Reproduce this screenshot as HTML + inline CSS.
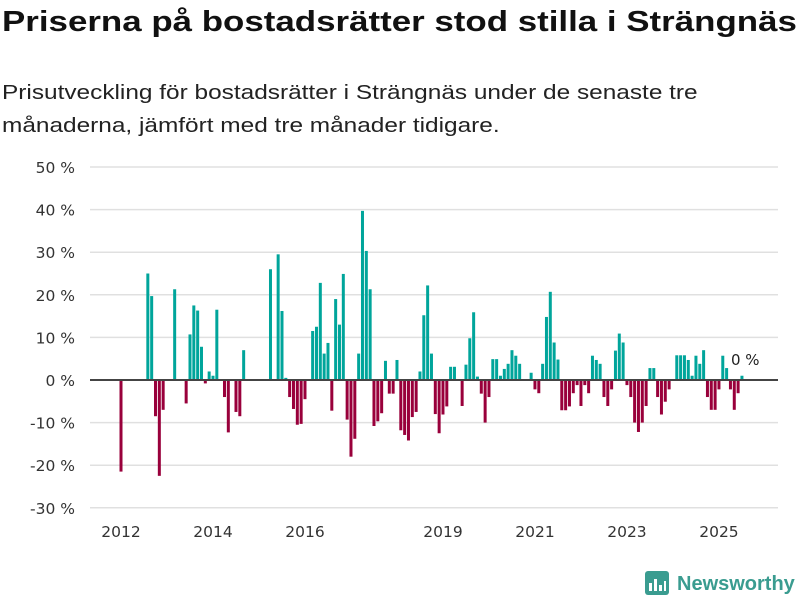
<!DOCTYPE html>
<html><head><meta charset="utf-8">
<style>
body{margin:0;background:#fff;width:800px;height:600px;overflow:hidden;font-family:"Liberation Sans",sans-serif;}
#title{position:absolute;left:2px;top:6px;font-size:29px;font-weight:bold;color:#111;white-space:nowrap;transform:scaleX(1.203);transform-origin:left top;}
#sub{position:absolute;left:2px;top:76px;font-size:20.5px;color:#222;line-height:33px;white-space:nowrap;transform:scaleX(1.19);transform-origin:left top;}
svg{position:absolute;left:0;top:0;}
</style></head><body>
<div id="title">Priserna på bostadsrätter stod stilla i Strängnäs</div>
<div id="sub">Prisutveckling för bostadsrätter i Strängnäs under de senaste tre<br>månaderna, jämfört med tre månader tidigare.</div>
<svg id="chart" width="800" height="600"></svg>
<script>
const monthIndex=[0,7,8,9,10,11,14,17,18,19,20,21,22,23,24,25,27,28,30,31,32,39,41,42,43,44,45,46,47,48,50,51,52,53,54,55,56,57,58,59,60,61,62,63,64,65,66,67,68,69,70,71,72,73,74,75,76,77,78,79,80,81,82,83,84,85,86,87,89,90,91,92,93,94,95,96,97,98,99,100,101,102,103,104,107,108,109,110,111,112,113,114,115,116,117,118,119,120,121,122,123,124,125,126,127,128,129,130,131,132,133,134,135,136,137,138,139,140,141,142,143,145,146,147,148,149,150,151,152,153,154,155,156,157,158,159,160,161,162];
const changeValues=[-21.5,25,19.7,-8.5,-22.5,-7,21.3,-5.5,10.7,17.5,16.3,7.8,-0.8,2,1,16.5,-4,-12.3,-7.5,-8.5,7,26,29.5,16.2,0.5,-4,-6.8,-10.5,-10.3,-4.5,11.5,12.5,22.8,6.2,8.7,-7.2,19,13,24.9,-9.3,-18,-13.8,6.2,39.7,30.3,21.3,-10.8,-9.7,-7.8,4.5,-3.2,-3.2,4.7,-11.8,-12.9,-14.2,-8.7,-7.5,2,15.2,22.2,6.2,-8,-12.5,-8.1,-6.2,3.1,3.1,-6.1,3.6,9.8,15.9,0.8,-3.2,-10,-4,4.9,4.9,1,2.6,3.8,7,5.7,3.8,1.7,-2.2,-3.1,3.8,14.8,20.7,8.8,4.8,-7.1,-7.1,-6.2,-3.1,-1.2,-6.1,-1.2,-3.1,5.7,4.7,3.8,-4,-6.1,-2.2,6.9,10.9,8.8,-1.2,-4,-10,-12.2,-10,-6.1,2.8,2.8,-4,-8.1,-5.1,-2.2,5.8,5.8,5.8,4.7,1,5.7,3.8,7,-4,-7,-7,-2.2,5.7,2.8,-2.2,-7,-3.1,1];
const yTicks=[50,40,30,20,10,0,-10,-20,-30];
const xTickYears=[2012,2014,2016,2019,2021,2023,2025];
const NS="http://www.w3.org/2000/svg";
const svg=document.getElementById('chart');
const y=v=>380-v*4.26;
const x=m=>121+m*3.833;
function mk(tag,attrs,parent){const e=document.createElementNS(NS,tag);for(const k in attrs)e.setAttribute(k,attrs[k]);(parent||svg).appendChild(e);return e;}
yTicks.forEach(t=>{
  if(t!==0){const g=mk('line',{x1:90,x2:778,y1:y(t),y2:y(t),stroke:'#e0e0e0','stroke-width':1.5});
  
  }
  const l=mk('text',{x:75,y:y(t)+6,'text-anchor':'end','font-size':15.5,fill:'#333','font-family':'DejaVu Sans, sans-serif'});
  l.textContent=t+' %';
  
  
});
xTickYears.forEach(yr=>{
  const l=mk('text',{x:x((yr-2012)*12),y:537,'text-anchor':'middle','font-size':15.5,fill:'#333','font-family':'DejaVu Sans, sans-serif'});
  l.textContent=yr;
  
  
});
monthIndex.forEach((m,i)=>{
  const v=changeValues[i];
  const r=mk('rect',{x:x(m)-1.5,width:3,y:Math.min(y(v),380),height:Math.abs(y(v)-380),fill:v>=0?'#00a59b':'#99003b'});
  
  
});
const z=mk('line',{x1:90,x2:778,y1:380,y2:380,stroke:'#444','stroke-width':2});


const a=mk('text',{x:731,y:365,'font-size':15,fill:'#222','font-family':'DejaVu Sans, sans-serif'});
a.textContent='0 %';


const lg=mk('g',{});


mk('rect',{x:645,y:571,width:24,height:24,rx:3,fill:'#3a9c90'},lg);
mk('path',{d:'M649 591 v-8 h3 v8 z M654 591 v-12 h3 v12 z M659 591 v-6 h3 v6 z M664 591 v-10 h2 v10 z',fill:'#fff'},lg);
const lt=mk('text',{x:677,y:590,'font-size':20,'font-weight':'bold',fill:'#3a9c90','font-family':'Liberation Sans, sans-serif'},lg);
lt.textContent='Newsworthy';
</script>
</body></html>
